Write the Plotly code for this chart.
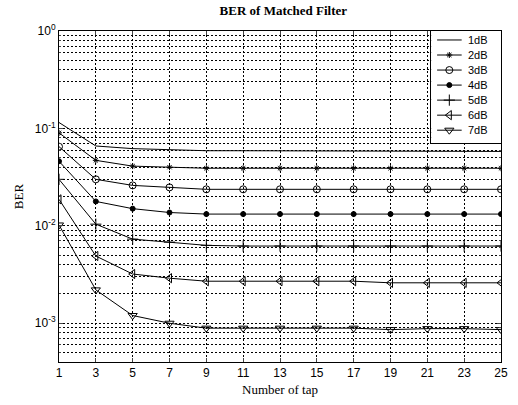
import plotly.graph_objects as go

taps = [1, 3, 5, 7, 9, 11, 13, 15, 17, 19, 21, 23, 25]
ber_1db = [0.115, 0.066, 0.062, 0.060, 0.059, 0.059, 0.059, 0.059, 0.058, 0.058, 0.058, 0.058, 0.058]
ber_2db = [0.090, 0.047, 0.041, 0.040, 0.039, 0.039, 0.039, 0.039, 0.039, 0.039, 0.039, 0.039, 0.039]
ber_3db = [0.065, 0.030, 0.026, 0.0248, 0.0237, 0.0237, 0.0237, 0.0237, 0.0237, 0.0237, 0.0237, 0.0237, 0.0237]
ber_4db = [0.046, 0.0178, 0.0150, 0.0137, 0.0132, 0.0132, 0.0132, 0.0132, 0.0132, 0.0132, 0.0132, 0.0132, 0.0132]
ber_5db = [0.030, 0.0104, 0.0073, 0.0068, 0.0063, 0.0062, 0.0062, 0.0062, 0.0062, 0.0062, 0.0062, 0.0062, 0.0062]
ber_6db = [0.0187, 0.0049, 0.0032, 0.0029, 0.0027, 0.0027, 0.0027, 0.0027, 0.0027, 0.0026, 0.0026, 0.0026, 0.0026]
ber_7db = [0.0102, 0.0022, 0.0012, 0.0010, 0.00089, 0.00089, 0.00089, 0.00089, 0.00089, 0.00086, 0.00088, 0.00088, 0.00086]

series_names = ["1dB", "2dB", "3dB", "4dB", "5dB", "6dB", "7dB"]
series_values = [ber_1db, ber_2db, ber_3db, ber_4db, ber_5db, ber_6db, ber_7db]
y_tick_vals = [1e-3, 1e-2, 1e-1, 1]
y_tick_text = ["10<sup>-3</sup>", "10<sup>-2</sup>", "10<sup>-1</sup>", "10<sup>0</sup>"]

symbols = [None, "asterisk-open", "circle-open", "circle", "cross-thin-open", "triangle-left-open", "triangle-down-open"]
sizes = [0, 5, 7, 5, 8, 8, 8]

fig = go.Figure()
for name, vals, sym, sz in zip(series_names, series_values, symbols, sizes):
    if sym is None:
        fig.add_trace(go.Scatter(x=taps, y=vals, name=name, mode="lines", showlegend=False,
                                 line=dict(color="black", width=1)))
    else:
        fig.add_trace(go.Scatter(x=taps, y=vals, name=name, mode="lines+markers", showlegend=False,
                                 line=dict(color="black", width=1),
                                 marker=dict(symbol=sym, size=sz, color="black",
                                             line=dict(color="black", width=1))))

# Custom legend box drawn as an inset subplot (x2/y2) over the top-right corner
row_top, row_step = 0.920, 0.134
line_x0, line_x1, mark_x, text_x = 0.085, 0.437, 0.26, 0.50
annotations = []
for i, (name, sym, sz) in enumerate(zip(series_names, symbols, sizes)):
    yy = row_top - i * row_step
    fig.add_trace(go.Scatter(x=[line_x0, line_x1], y=[yy, yy], mode="lines", showlegend=False,
                             hoverinfo="skip", line=dict(color="black", width=1),
                             xaxis="x2", yaxis="y2"))
    if sym is not None:
        fig.add_trace(go.Scatter(x=[mark_x], y=[yy], mode="markers", showlegend=False,
                                 hoverinfo="skip",
                                 marker=dict(symbol=sym, size=sz, color="black",
                                             line=dict(color="black", width=1)),
                                 xaxis="x2", yaxis="y2"))
    annotations.append(dict(x=text_x, y=yy, xref="x2", yref="y2", text=name, showarrow=False,
                            xanchor="left", yanchor="middle",
                            font=dict(family="Liberation Sans", size=11, color="black")))

minor_vals = []
for dec in [1e-4, 1e-3, 1e-2, 1e-1]:
    for k in range(2, 10):
        v = k * dec
        if v >= 4e-4:
            minor_vals.append(v)

GRID_DASH = "2px,2px"

fig.update_layout(
    width=518, height=405,
    margin=dict(l=59, r=10, t=31, b=41),
    paper_bgcolor="white", plot_bgcolor="white",
    title=dict(text="<b>BER of Matched Filter</b>", x=0.547, xanchor="center", y=0.985, yanchor="top",
               font=dict(family="Liberation Serif", size=13, color="black")),
    font=dict(family="Liberation Sans", size=12, color="black"),
    showlegend=False,
    annotations=annotations,
    xaxis=dict(range=[1, 25], tickmode="array", tickvals=taps, ticks="inside", ticklen=4,
               showline=True, linecolor="black", linewidth=1, mirror="ticks",
               showgrid=True, gridcolor="black", griddash=GRID_DASH, gridwidth=1,
               zeroline=False,
               title=dict(text="Number of tap", standoff=5,
                          font=dict(family="Liberation Serif", size=13, color="black")),
               tickfont=dict(family="Liberation Sans", size=12)),
    yaxis=dict(type="log", range=[-3.398, 0], tickvals=y_tick_vals, ticktext=y_tick_text,
               ticks="inside", ticklen=4,
               showline=True, linecolor="black", linewidth=1, mirror="ticks",
               showgrid=True, gridcolor="black", griddash=GRID_DASH, gridwidth=1,
               minor=dict(tickvals=minor_vals, ticks="inside", ticklen=2, showgrid=True,
                          gridcolor="black", griddash=GRID_DASH, gridwidth=1),
               title=dict(text="BER", standoff=8,
                          font=dict(family="Liberation Serif", size=13, color="black")),
               tickfont=dict(family="Liberation Sans", size=12)),
    xaxis2=dict(domain=[0.842, 1.0], range=[0, 1], anchor="y2", showgrid=False, zeroline=False,
                showticklabels=False, ticks="", showline=True, linecolor="black", linewidth=1,
                mirror=True, fixedrange=True),
    yaxis2=dict(domain=[0.661, 1.0], range=[0, 1], anchor="x2", showgrid=False, zeroline=False,
                showticklabels=False, ticks="", showline=True, linecolor="black", linewidth=1,
                mirror=True, fixedrange=True),
)

fig.write_html(
    "out.html",
    config={"displayModeBar": False, "responsive": False},
    post_script=(
        "document.body.style.margin='0px';"
        "document.body.style.overflow='hidden';"
        "document.documentElement.style.overflow='hidden';"
    ),
)
